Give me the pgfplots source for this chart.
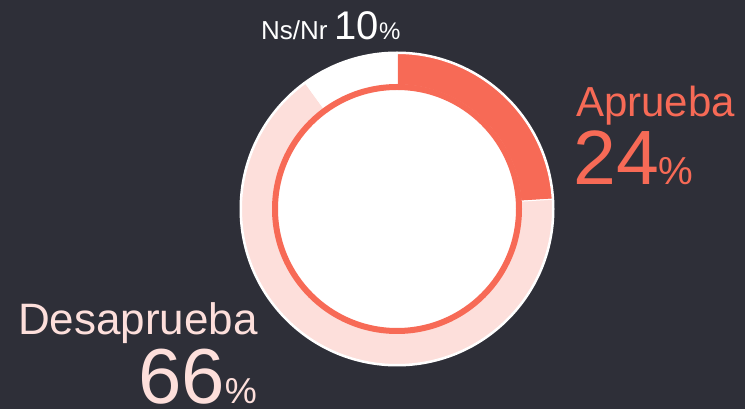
\documentclass[border=0pt]{standalone}
\usepackage{pgfplots}
\pgfplotsset{compat=1.18}
\usepackage{pgfplotstable}
\usepackage{fontspec}
\setmainfont{Liberation Sans}
\definecolor{bg}{HTML}{2E2F38}
\definecolor{coral}{HTML}{F76A56}
\definecolor{pinkl}{HTML}{FDDFDB}
\pgfplotstableread{
label value
Aprueba 24
Desaprueba 66
NsNr 10
}\donutdata
\newcommand\fs[1]{\fontsize{#1}{#1}\selectfont}
\newcommand\sector[3]{%
 \fill[#3, draw=white, line width=1pt] ({397+155.5*cos(#1)},{200+155.5*sin(#1)}) arc[start angle=#1, end angle=#2, radius=155.5pt] -- ({397+124*cos(#2)},{200+124*sin(#2)}) arc[start angle=#2, end angle=#1, radius=124pt] -- cycle;}
\begin{document}%
\begin{tikzpicture}
\pgfplotstablegetelem{0}{value}\of\donutdata \let\vA\pgfplotsretval
\pgfplotstablegetelem{1}{value}\of\donutdata \let\vB\pgfplotsretval
\pgfplotstablegetelem{2}{value}\of\donutdata \let\vC\pgfplotsretval
\pgfmathsetmacro\aZero{90}
\pgfmathsetmacro\aOne{90-3.6*\vA}
\pgfmathsetmacro\aTwo{\aOne-3.6*\vB}
\pgfmathsetmacro\aThree{\aTwo-3.6*\vC}
\begin{axis}[x=1pt,y=1pt,xmin=0,xmax=745,ymin=0,ymax=409,hide axis,scale only axis,clip=false]
\fill[bg] (-20,-20) rectangle (765,429);
\coordinate (bl) at (0,0);
\coordinate (tr) at (745,409);
\fill[white] (397,200) circle[radius=157.5pt];
\sector{\aZero}{\aOne}{coral}
\sector{\aOne}{\aTwo}{pinkl}
\sector{\aTwo}{\aThree}{white}
\draw[coral, line width=6pt, fill=white] (397,200) circle[radius=122pt];
\node[anchor=base west, inner sep=0pt, text=coral] at (576,292.3) {\fs{42}Aprueba};
\node[anchor=base west, inner sep=0pt, text=coral] at (573,224) {\fs{77}24\fs{39}\%};
\node[anchor=base east, inner sep=0pt, text=pinkl] at (258,74) {\fs{44}Desaprueba};
\node[anchor=base east, inner sep=0pt, text=pinkl] at (257,5.5) {\fs{78}66\fs{36}\%};
\node[anchor=base west, inner sep=0pt, text=white] at (261,369.7) {\fs{26}Ns/Nr\hspace{7pt}\fs{40}10\fs{24}\%};
\end{axis}
\pgfresetboundingbox
\useasboundingbox (bl) rectangle (tr);
\end{tikzpicture}%
\end{document}
